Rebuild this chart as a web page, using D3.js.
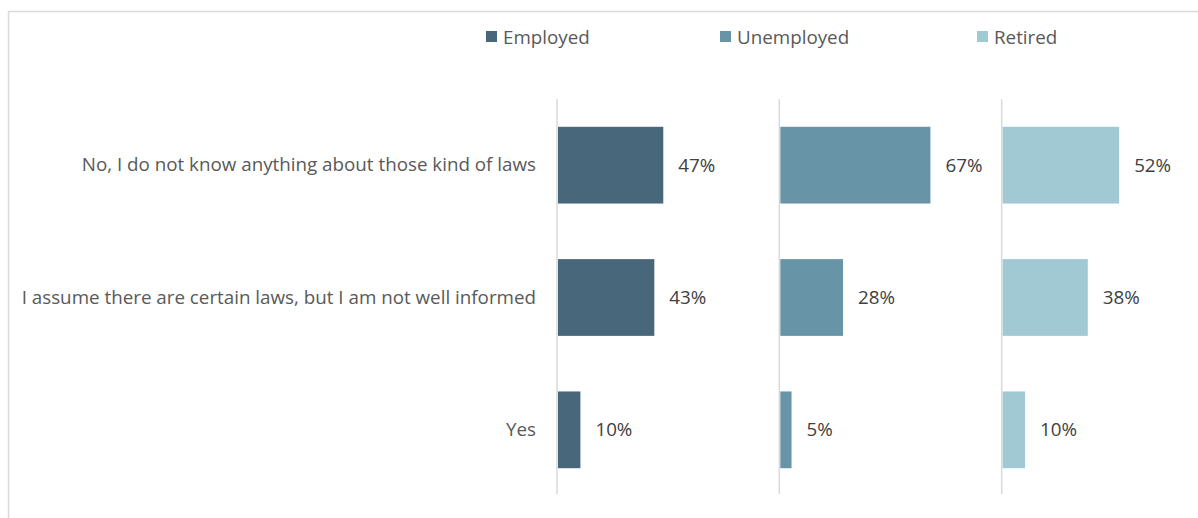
<!DOCTYPE html>
<html><head><meta charset="utf-8">
<script src="https://cdn.jsdelivr.net/npm/d3@7"></script>
<style>body{margin:0;background:#fff;} svg{display:block;}</style>
</head><body>
<svg id="c" width="1198" height="518"></svg>
<script>
const categories = ["No, I do not know anything about those kind of laws", "I assume there are certain laws, but I am not well informed", "Yes"];
const seriesNames = ["Employed", "Unemployed", "Retired"];
const employed = [47, 43, 10];
const unemployed = [67, 28, 5];
const retired = [52, 38, 10];
const colors = ["#48677b", "#6894a8", "#a0c9d3"];
const seriesValues = [employed, unemployed, retired];

const svg = d3.select("#c");
const font = "'Open Sans', sans-serif";
const fs = 18.8;

svg.append("rect").attr("x", 8.5).attr("y", 11.5).attr("width", 1300).attr("height", 600)
  .attr("fill", "none").attr("stroke", "#d9d9d9").attr("stroke-width", 1.5);

const y = d3.scaleBand().domain(categories).range([99, 496]).paddingInner(0.42).paddingOuter(0.21);
const panelX = d3.scaleBand().domain(seriesNames).range([557, 1224]).paddingInner(0);
const x = d3.scaleLinear().domain([0, 100]).range([0, 224]);

// category labels
svg.append("g").selectAll("text").data(categories).join("text")
  .attr("x", 536).attr("y", d => y(d) + y.bandwidth() / 2)
  .attr("dy", "0.33em").attr("text-anchor", "end")
  .attr("font-family", font).attr("font-size", fs).attr("fill", "#595959")
  .text(d => d);

seriesNames.forEach((s, i) => {
  const x0 = panelX(s);
  const g = svg.append("g").attr("transform", `translate(${x0},0)`);
  g.append("line").attr("x1", 0).attr("x2", 0).attr("y1", 99).attr("y2", 494)
    .attr("stroke", "#d9d9d9").attr("stroke-width", 1.5);
  g.selectAll("rect").data(seriesValues[i]).join("rect")
    .attr("x", 1).attr("y", (d, j) => y(categories[j]))
    .attr("width", d => x(d)).attr("height", y.bandwidth())
    .attr("fill", colors[i]);
  g.selectAll("text").data(seriesValues[i]).join("text")
    .attr("x", d => x(d) + 16).attr("y", (d, j) => y(categories[j]) + y.bandwidth() / 2)
    .attr("dy", "0.35em").attr("font-family", font).attr("font-size", fs).attr("fill", "#404040")
    .text(d => d + "%");
});

// legend
const legendX = [486, 720, 977];
const lg = svg.append("g");
seriesNames.forEach((s, i) => {
  lg.append("rect").attr("x", legendX[i]).attr("y", 31).attr("width", 11).attr("height", 11).attr("fill", colors[i]);
  lg.append("text").attr("x", legendX[i] + 17).attr("y", 37).attr("dy", "0.35em")
    .attr("font-family", font).attr("font-size", fs).attr("fill", "#595959").text(s);
});
</script>
</body></html>
